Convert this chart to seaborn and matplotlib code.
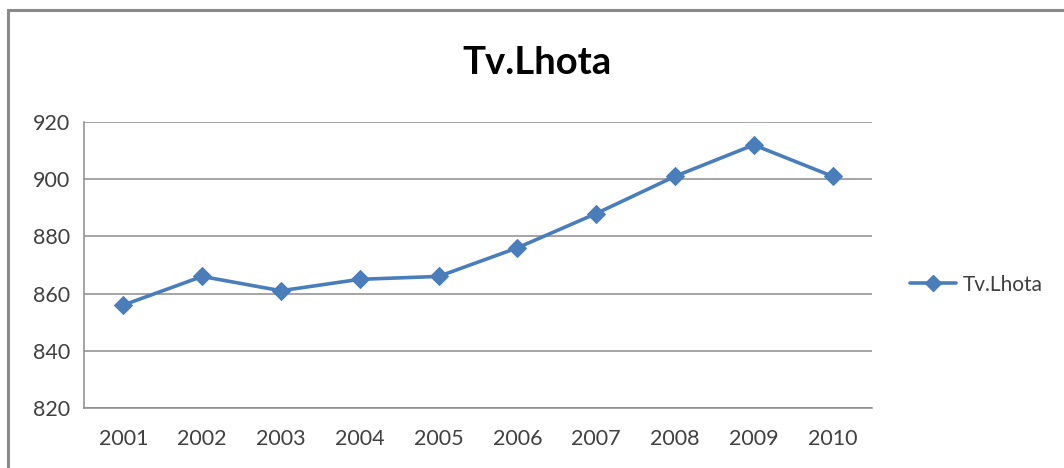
import matplotlib
matplotlib.use('Agg')
import matplotlib.pyplot as plt
import matplotlib.patches as patches
from matplotlib.lines import Line2D
import seaborn as sns
import pandas as pd

# chart data
years = ["2001", "2002", "2003", "2004", "2005", "2006", "2007", "2008", "2009", "2010"]
values = [856, 866, 861, 865, 866, 876, 888, 901, 912, 901]
series_name = "Tv.Lhota"
y_ticks = [820, 840, 860, 880, 900, 920]

df = pd.DataFrame({"year": years, "value": values})

sns.set_style("white")
plt.rcParams['font.family'] = ['Lato', 'DejaVu Sans']

blue = "#4A7EBB"
grid_col = "#8c8c8c"
text_col = "#404040"

fig = plt.figure(figsize=(10.64, 4.68), dpi=100)
ax = fig.add_axes([0.0789, 0.1282, 0.7406, 0.6111])

sns.lineplot(data=df, x="year", y="value", ax=ax, color=blue, linewidth=2.6,
             marker="D", markersize=9, markeredgecolor=blue, sort=False)

ax.set_ylim(820, 920)
ax.set_xlim(-0.5, len(years) - 0.5)
ax.set_yticks(y_ticks)
ax.set_yticklabels([str(t) for t in y_ticks], fontsize=15.5, color=text_col)
ax.yaxis.grid(True, color=grid_col, linewidth=1.1)
ax.set_axisbelow(True)

# category axis: tick marks between categories, labels at centres
ax.set_xticks([i - 0.5 for i in range(len(years) + 1)])
ax.set_xticklabels([])
ax.set_xticks(range(len(years)), minor=True)
ax.set_xticklabels(years, minor=True, fontsize=15.5, color=text_col)
ax.tick_params(axis="x", which="major", length=6, color=grid_col, direction="out")
ax.tick_params(axis="x", which="minor", length=0, pad=15)
ax.tick_params(axis="y", length=6, color=grid_col, direction="out", pad=4)

for side in ["top", "right"]:
    ax.spines[side].set_visible(False)
for side in ["left", "bottom"]:
    ax.spines[side].set_color(grid_col)
    ax.spines[side].set_linewidth(1.1)

ax.set_xlabel("")
ax.set_ylabel("")

fig.text(0.505, 0.865, series_name, ha="center", va="center",
         fontsize=27.5, fontweight="bold", color="black")

handle = Line2D([0], [0], color=blue, linewidth=2.6, marker="D", markersize=8)
fig.legend([handle], [series_name], loc="center left", bbox_to_anchor=(0.838, 0.392),
           frameon=False, fontsize=15, handlelength=2.2, handletextpad=0.3,
           labelcolor=text_col)

# chart area border
border = patches.Rectangle((8 / 1064, -0.05), 1.1, (468 - 10) / 468 + 0.05,
                           transform=fig.transFigure, fill=False,
                           edgecolor="#8a8a8a", linewidth=2.2, clip_on=False)
fig.patches.append(border)

fig.savefig("out.png", dpi=100)
